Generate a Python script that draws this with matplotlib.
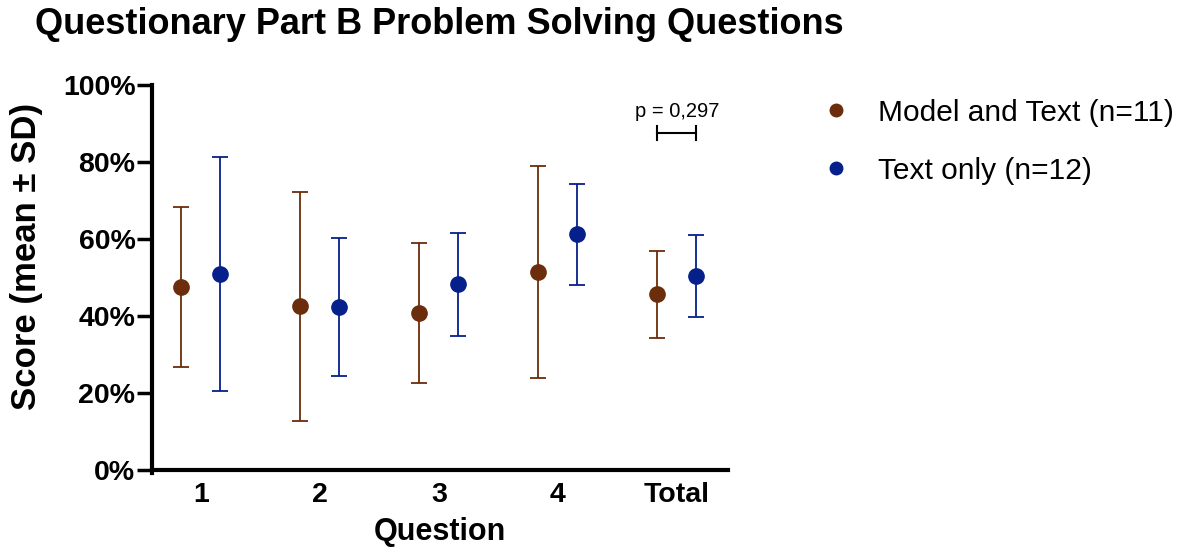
import numpy as np
import matplotlib
matplotlib.use("Agg")
import matplotlib.pyplot as plt
from matplotlib.ticker import PercentFormatter
from matplotlib.lines import Line2D

plt.rcParams['font.family'] = ['Liberation Sans', 'DejaVu Sans']

categories = ['1', '2', '3', '4', 'Total']
model_mean = [47.6, 42.5, 40.8, 51.4, 45.6]
model_sd = [20.8, 29.7, 18.1, 27.5, 11.2]
text_mean = [50.9, 42.3, 48.2, 61.2, 50.4]
text_sd = [30.4, 18.0, 13.4, 13.2, 10.7]
labels = ['Model and Text (n=11)', 'Text only (n=12)']
p_text = 'p = 0,297'
p_level = 87.5

brown = '#6B2D0B'
blue = '#05208A'

fig = plt.figure(figsize=(12.01, 5.5), dpi=100)
ax = fig.add_axes([0.1266, 0.1455, 0.4795, 0.70])

x = np.arange(1, len(categories) + 1)
off = 0.165
ax.errorbar(x - off, model_mean, yerr=model_sd, fmt='o', color=brown,
            ms=11, elinewidth=1.3, capsize=6, capthick=1.3, label=labels[0], zorder=3)
ax.errorbar(x + off, text_mean, yerr=text_sd, fmt='o', color=blue,
            ms=11, elinewidth=1.3, capsize=6, capthick=1.3, label=labels[1], zorder=3)

# significance bracket on Total
x1, x2 = x[-1] - off, x[-1] + off
ax.plot([x1, x2], [p_level, p_level], color='black', lw=1.5)
ax.plot([x1, x1], [p_level - 1.8, p_level + 1.8], color='black', lw=1.5)
ax.plot([x2, x2], [p_level - 1.8, p_level + 1.8], color='black', lw=1.5)
ax.text(x[-1], p_level + 3.2, p_text, ha='center', va='bottom', fontsize=14.5)

ax.set_xlim(0.59, 5.43)
ax.set_ylim(0, 100)
ax.set_yticks([0, 20, 40, 60, 80, 100])
ax.yaxis.set_major_formatter(PercentFormatter(decimals=0))
ax.set_xticks(x)
ax.set_xticklabels(categories)
ax.tick_params(axis='x', length=0, pad=9, labelsize=20.5)
ax.tick_params(axis='y', length=11, width=2.5, labelsize=20.5, pad=1)
for lab in ax.get_xticklabels() + ax.get_yticklabels():
    lab.set_fontweight('bold')
for s in ['top', 'right']:
    ax.spines[s].set_visible(False)
for s in ['left', 'bottom']:
    ax.spines[s].set_linewidth(3)
ax.spines['left'].set_bounds(-0.7, 100)

ax.set_xlabel('Question', fontsize=22, fontweight='bold', labelpad=6)
ax.set_ylabel('Score (mean ± SD)', fontsize=25, fontweight='bold')
ax.yaxis.set_label_coords(-0.19, 0.555)

fig.text(0.029, 0.955, 'Questionary Part B Problem Solving Questions',
         fontsize=26, fontweight='bold', va='center', ha='left')

h = [Line2D([], [], marker='o', ls='', color=brown, ms=9),
     Line2D([], [], marker='o', ls='', color=blue, ms=9)]
fig.legend(h, labels, loc='upper left', bbox_to_anchor=(0.664, 0.869),
           frameon=False, fontsize=21.5, handlelength=0.8,
           handletextpad=1.0, labelspacing=1.0)

fig.savefig('out.png', dpi=100)
